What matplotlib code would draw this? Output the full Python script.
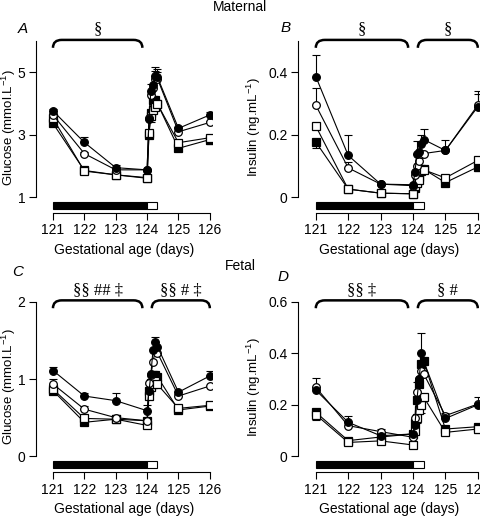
import numpy as np
import matplotlib.pyplot as plt
from matplotlib.path import Path
from matplotlib.patches import PathPatch, Rectangle
import matplotlib.transforms as mtransforms

plt.rcParams['font.family'] = ['Liberation Sans', 'DejaVu Sans']
plt.rcParams['mathtext.default'] = 'regular'

# sampling times (days); extra points after refeeding on day 124
times = [121, 122, 123, 124, 124.06, 124.12, 124.19, 124.26, 124.33, 125, 126]

# A: maternal glucose (mmol/L)
a_fc = [3.77, 2.76, 1.95, 1.88, 3.50, 4.42, 4.60, 4.88, 4.85, 3.21, 3.64]
a_oc = [3.64, 2.40, 1.88, 1.88, 3.53, 4.28, 4.50, 4.79, 4.80, 3.10, 3.40]
a_fs = [3.37, 1.86, 1.72, 1.61, 3.00, 3.70, 4.12, 4.12, 4.00, 2.57, 2.85]
a_os = [3.53, 1.84, 1.72, 1.63, 3.07, 3.60, 3.80, 3.90, 3.99, 2.75, 2.91]
a_fc_err = [0.05, 0.18, 0.08, 0, 0, 0.2, 0, 0.3, 0.25, 0.05, 0.1]
a_oc_err = [0.05, 0.05, 0, 0, 0, 0, 0, 0.25, 0.2, 0, 0.05]
a_fs_err = [0.05, 0, 0, 0, 0, 0.3, 0, 0, 0, 0.1, 0.05]
a_os_err = [0.05, 0.05, 0.05, 0.05, 0, 0, 0, 0, 0, 0.05, 0.2]

# B: maternal insulin (ng/mL)
b_fc = [0.387, 0.134, 0.042, 0.040, 0.080, 0.140, 0.145, 0.170, 0.185, 0.150, 0.290]
b_oc = [0.295, 0.094, 0.042, 0.037, 0.070, 0.100, 0.115, 0.140, 0.140, 0.150, 0.295]
b_fs = [0.177, 0.026, 0.013, 0.011, 0.030, 0.050, 0.065, 0.090, 0.090, 0.047, 0.097]
b_os = [0.228, 0.026, 0.013, 0.011, 0.035, 0.045, 0.055, 0.085, 0.088, 0.062, 0.118]
b_fc_err = [0.07, 0.065, 0, 0, 0, 0.04, 0, 0.03, 0.033, 0, 0.05]
b_oc_err = [0.055, 0.02, 0, 0, 0, 0.04, 0, 0, 0, 0.035, 0.035]
b_fs_err = [0.018, 0, 0, 0, 0, 0, 0, 0, 0, 0.012, 0.012]
b_os_err = [0.01, 0, 0, 0, 0, 0, 0, 0, 0, 0, 0]

# C: fetal glucose (mmol/L)
c_fc = [1.11, 0.78, 0.72, 0.59, 0.84, 1.06, 1.38, 1.48, 1.42, 0.83, 1.04]
c_oc = [0.935, 0.61, 0.50, 0.46, 0.95, 1.05, 1.22, 1.38, 1.34, 0.78, 0.91]
c_fs = [0.85, 0.44, 0.48, 0.46, 0.84, 0.95, 1.05, 1.05, 1.03, 0.60, 0.65]
c_os = [0.87, 0.49, 0.48, 0.40, 0.78, 0.90, 0.93, 0.98, 0.93, 0.62, 0.66]
c_fc_err = [0.05, 0.04, 0.1, 0.07, 0, 0, 0, 0.07, 0, 0, 0.06]
c_oc_err = [0.07, 0.04, 0, 0, 0, 0, 0, 0, 0, 0.03, 0]
c_fs_err = [0] * 11
c_os_err = [0] * 11

# D: fetal insulin (ng/mL)
d_fc = [0.257, 0.132, 0.080, 0.087, 0.120, 0.220, 0.300, 0.400, 0.370, 0.147, 0.200]
d_oc = [0.268, 0.119, 0.096, 0.074, 0.150, 0.250, 0.300, 0.330, 0.320, 0.158, 0.203]
d_fs = [0.171, 0.061, 0.075, 0.087, 0.130, 0.220, 0.280, 0.360, 0.370, 0.106, 0.115]
d_os = [0.162, 0.054, 0.060, 0.044, 0.100, 0.150, 0.180, 0.200, 0.230, 0.093, 0.106]
d_fc_err = [0, 0.025, 0, 0, 0, 0, 0, 0.08, 0, 0, 0]
d_oc_err = [0.035, 0, 0.012, 0, 0, 0.04, 0, 0, 0, 0.01, 0.027]
d_fs_err = [0.02, 0, 0, 0, 0, 0, 0, 0, 0, 0, 0]
d_os_err = [0.02, 0, 0, 0, 0, 0.02, 0, 0.03, 0, 0, 0.015]

xticks = [121, 122, 123, 124, 125, 126]


def brace(ax, x0, x1, label):
    trans = mtransforms.blended_transform_factory(ax.transData, ax.transAxes)
    yt, yb, r = 1.008, 0.962, 0.28
    verts = [(x0, yb), (x0, yt), (x0 + r, yt), (x1 - r, yt), (x1, yt), (x1, yb)]
    codes = [Path.MOVETO, Path.CURVE3, Path.CURVE3, Path.LINETO, Path.CURVE3, Path.CURVE3]
    ax.add_patch(PathPatch(Path(verts, codes), fill=False, lw=1.8, color='black',
                           transform=trans, clip_on=False))
    ax.text((x0 + x1) / 2, 1.07, label, transform=trans, ha='center', va='center',
            family=['Liberation Serif', 'DejaVu Serif'], fontsize=12)


def panel(ax, ylim, yticks, yticklabels, ylabel, label_x, series, errs, braces):
    # series order: filled circle, open circle, filled square, open square
    styles = [('o', 'black'), ('o', 'white'), ('s', 'black'), ('s', 'white')]
    order = [2, 3, 1, 0]
    t = np.array(times)
    for k in order:
        y = np.array(series[k])
        e = np.array(errs[k])
        m = e > 0
        if m.any():
            if k in (0, 1):  # circles: upward bars
                yerr = [np.zeros(m.sum()), e[m]]
            else:
                yerr = [e[m], np.zeros(m.sum())]
            ax.errorbar(t[m], y[m], yerr=yerr, fmt='none', ecolor='black',
                        elinewidth=0.8, capsize=3, capthick=0.8, zorder=2)
    for k in order:
        mk, fc = styles[k]
        ax.plot(times, series[k], color='black', lw=0.8, marker=mk, ms=5.5,
                mfc=fc, mec='black', mew=0.9, zorder=3)

    ax.set_xlim(120.45, 126.08)
    ax.set_ylim(*ylim)
    ax.set_xticks(xticks)
    ax.set_yticks(yticks)
    ax.set_yticklabels(yticklabels)
    ax.tick_params(direction='out', length=5, width=0.8, labelsize=10, pad=2.5)
    for s in ['top', 'right']:
        ax.spines[s].set_visible(False)
    ax.spines['left'].set_bounds(yticks[0], ylim[1])
    ax.spines['bottom'].set_bounds(121, 126)
    ax.set_ylabel(ylabel, fontsize=9.5)
    ax.yaxis.set_label_coords(label_x, 0.5)
    ax.set_xlabel('Gestational age (days)', fontsize=10, labelpad=4)

    trans = mtransforms.blended_transform_factory(ax.transData, ax.transAxes)
    ax.add_patch(Rectangle((121, 0.024), 3, 0.04, transform=trans, facecolor='black',
                           edgecolor='black', lw=0.8, clip_on=False))
    ax.add_patch(Rectangle((124, 0.024), 0.33, 0.04, transform=trans, facecolor='white',
                           edgecolor='black', lw=0.8, clip_on=False))
    for x0, x1, lab in braces:
        brace(ax, x0, x1, lab)


fig = plt.figure(figsize=(4.8, 5.18), dpi=100)
ax_a = fig.add_axes([0.0744, 0.5888, 0.368, 0.3315])
ax_b = fig.add_axes([0.6208, 0.5888, 0.380, 0.3315])
ax_c = fig.add_axes([0.0744, 0.0882, 0.368, 0.3293])
ax_d = fig.add_axes([0.6208, 0.0882, 0.380, 0.3293])

panel(ax_a, (0.497, 6), [1, 3, 5], ['1', '3', '5'], 'Glucose (mmol.L$^{-1}$)', -0.1,
      [a_fc, a_oc, a_fs, a_os], [a_fc_err, a_oc_err, a_fs_err, a_os_err],
      [(121, 123.85, '§')])
panel(ax_b, (-0.0506, 0.5), [0, 0.2, 0.4], ['0', '0.2', '0.4'], 'Insulin (ng.mL$^{-1}$)',
      -0.19,
      [b_fc, b_oc, b_fs, b_os], [b_fc_err, b_oc_err, b_fs_err, b_os_err],
      [(121, 123.85, '§'), (124.15, 126, '§')])
panel(ax_c, (-0.207, 2), [0, 1, 2], ['0', '1', '2'], 'Glucose (mmol.L$^{-1}$)', -0.1,
      [c_fc, c_oc, c_fs, c_os], [c_fc_err, c_oc_err, c_fs_err, c_os_err],
      [(121, 123.85, '§§ ## ‡'), (124.15, 126, '§§ # ‡')])
panel(ax_d, (-0.062, 0.6), [0, 0.2, 0.4, 0.6], ['0', '0.2', '0.4', '0.6'],
      'Insulin (ng.mL$^{-1}$)', -0.19,
      [d_fc, d_oc, d_fs, d_os], [d_fc_err, d_oc_err, d_fs_err, d_os_err],
      [(121, 123.85, '§§ ‡'), (124.15, 126, '§ #')])

fig.text(0.5, 0.986, 'Maternal', ha='center', va='center', fontsize=10)
fig.text(0.5, 0.486, 'Fetal', ha='center', va='center', fontsize=10)
for lab, x, y in [('A', 0.047, 0.944), ('B', 0.596, 0.946),
                  ('C', 0.036, 0.475), ('D', 0.59, 0.465)]:
    fig.text(x, y, lab, ha='center', va='center', fontsize=11, style='italic')

fig.savefig('out.png', dpi=100)
